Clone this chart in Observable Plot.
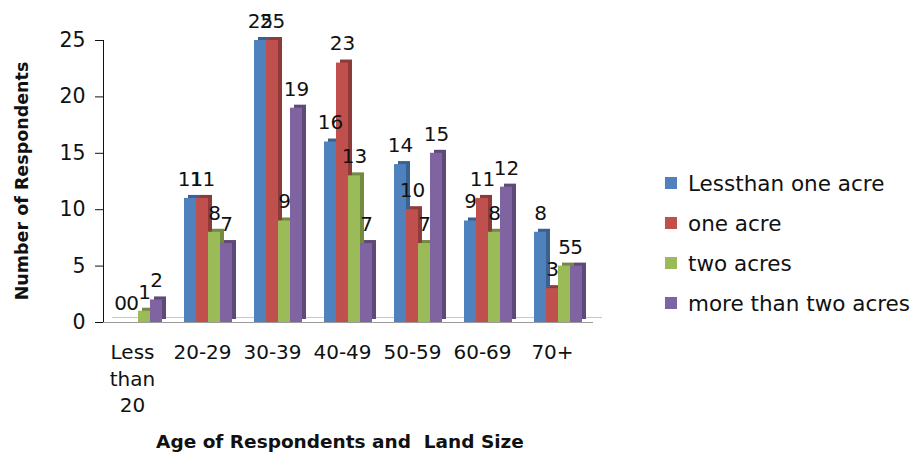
<!DOCTYPE html>
<html>
<head>
<meta charset="utf-8">
<script src="https://cdn.jsdelivr.net/npm/d3@7"></script>
<script src="https://cdn.jsdelivr.net/npm/@observablehq/plot@0.6"></script>
<style>
  html, body { margin: 0; padding: 0; background: #fff; }
  #wrap { position: relative; width: 917px; height: 453px; font-family: "DejaVu Sans", sans-serif; color: #111; }
  #chart { position: absolute; left: 0; top: 0; }
  #chart g[aria-label="y-axis tick"], #chart g[aria-label="y-axis line"], #chart g[aria-label="frame"] { stroke: #8a8a8a; }
  #ylabel { position: absolute; left: 22px; top: 181px; transform: translate(-50%, -50%) rotate(-90deg); font-weight: bold; font-size: 17.5px; white-space: nowrap; }
  #xtitle { position: absolute; left: 340px; top: 441px; transform: translate(-50%, -50%); font-weight: bold; font-size: 18.5px; white-space: pre; }
  #legend { position: absolute; left: 665px; top: 163px; font-size: 21.5px; }
  .item { height: 40px; display: flex; align-items: center; white-space: nowrap; }
  .sw { width: 12px; height: 12px; margin-right: 11px; }
</style>
</head>
<body>
<div id="wrap">
  <div id="chart"></div>
  <div id="ylabel">Number of Respondents</div>
  <div id="xtitle">Age of Respondents and  Land Size</div>
  <div id="legend"></div>
</div>
<script>
const ages = ["Less than 20", "20-29", "30-39", "40-49", "50-59", "60-69", "70+"];
const series = ["Lessthan one acre", "one acre", "two acres", "more than two acres"];
const lessThanOneAcre = [0, 11, 25, 16, 14, 9, 8];
const oneAcre = [0, 11, 25, 23, 10, 11, 3];
const twoAcres = [1, 8, 9, 13, 7, 8, 5];
const moreThanTwoAcres = [2, 7, 19, 7, 15, 12, 5];
const yTicks = [0, 5, 10, 15, 20, 25];

const colors = ["#4F81BD", "#C0504D", "#9BBB59", "#8064A2"];
const darkColors = ["#3A6190", "#8E3A38", "#738B41", "#5E4A79"];

const valuesBySeries = [lessThanOneAcre, oneAcre, twoAcres, moreThanTwoAcres];
const data = [];
ages.forEach((age, i) => {
  series.forEach((s, j) => {
    data.push({age, series: s, value: valuesBySeries[j][i]});
  });
});

const chart = Plot.plot({
  width: 650,
  height: 420,
  marginLeft: 103,
  marginRight: 57,
  marginTop: 40,
  marginBottom: 98,
  style: {fontFamily: "DejaVu Sans, sans-serif", fontSize: "20.5px", color: "#111", background: "transparent"},
  fx: {domain: ages, padding: 0, axis: null},
  x: {domain: series, paddingInner: 0, paddingOuter: 0.75, axis: null},
  y: {domain: [0, 25], ticks: yTicks, tickSize: 8, tickPadding: 10, line: true, label: null},
  color: {domain: series, range: colors},
  marks: [
    // 3D floor
    Plot.ruleY([0], {stroke: "#c8c8c8", strokeWidth: 1, dx: 9, dy: -5}),
    Plot.ruleY([0], {stroke: "#999", strokeWidth: 1.2}),
    // bar depth (side + top)
    Plot.barY(data, {fx: "age", x: "series", y: "value", fill: d => darkColors[series.indexOf(d.series)], dx: 4, dy: -3}),
    // bar fronts
    Plot.barY(data, {fx: "age", x: "series", y: "value", fill: "series"}),
    // labels
    Plot.text(data, {fx: "age", x: "series", y: "value", text: d => String(d.value), dy: -19, fontSize: 20, fill: "#111"}),
    // category axis
    Plot.axisFx({anchor: "bottom", tickSize: 0, tickPadding: 18, fontSize: 20, lineHeight: 1.32, dx: -6, fill: "#111", label: null,
      tickFormat: d => d.replace(/ /g, "\n")})
  ]
});
document.getElementById("chart").appendChild(chart);

const leg = document.getElementById("legend");
series.forEach((s, j) => {
  const it = document.createElement("div");
  it.className = "item";
  it.innerHTML = `<div class="sw" style="background:${colors[j]}"></div><span>${s}</span>`;
  leg.appendChild(it);
});
</script>
</body>
</html>
